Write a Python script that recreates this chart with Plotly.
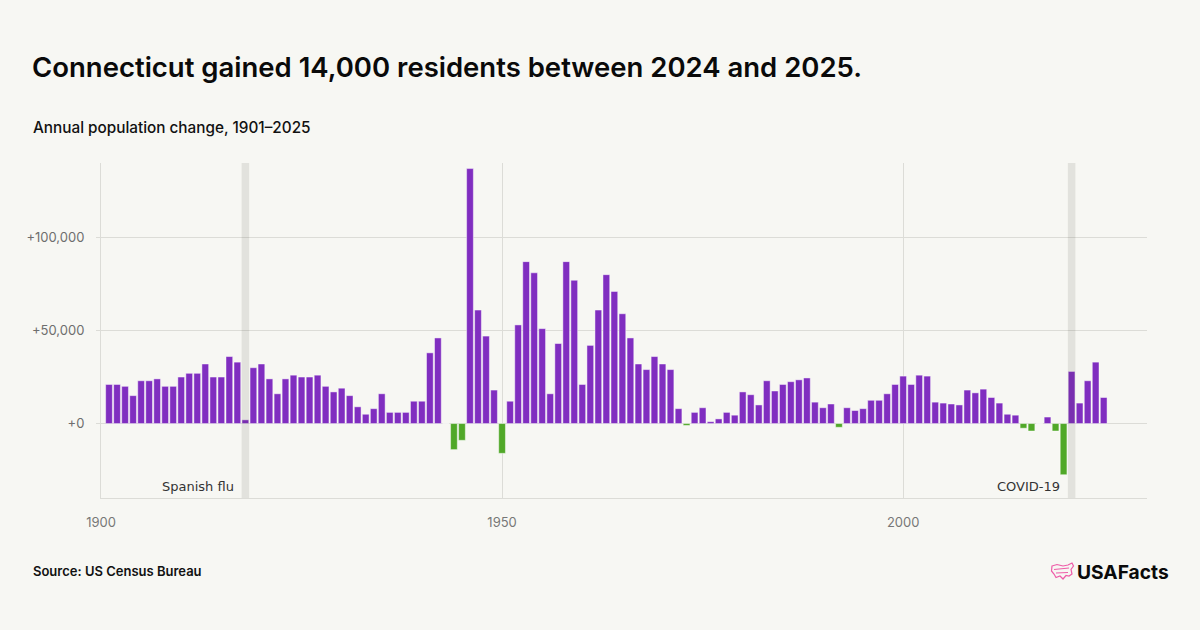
import plotly.graph_objects as go

# ---- data ----
years = list(range(1901, 2026))
change = [
    21000, 21000, 20000, 15000, 23000, 23000, 24000, 20000, 20000, 25000,   # 1901-1910
    27000, 27000, 32000, 25000, 25000, 36000, 33000, 2000, 30000, 32000,    # 1911-1920
    24000, 16000, 24000, 26000, 25000, 25000, 26000, 20000, 17000, 19000,   # 1921-1930
    15000, 9000, 5000, 8000, 16000, 6000, 6000, 6000, 12000, 12000,         # 1931-1940
    38000, 46000, 0, -14000, -9000, 137000, 61000, 47000, 18000, -16000,    # 1941-1950
    12000, 53000, 87000, 81000, 51000, 16000, 43000, 87000, 77000, 21000,   # 1951-1960
    42000, 61000, 80000, 71000, 59000, 46000, 32000, 29000, 36000, 32000,   # 1961-1970
    29000, 8000, -1000, 6000, 8500, 1000, 2500, 6000, 4500, 17000,          # 1971-1980
    15500, 10000, 23000, 17500, 21000, 22500, 23500, 24500, 11500, 8500,    # 1981-1990
    10500, -2000, 8500, 7000, 8000, 12500, 12500, 16000, 21000, 25500,      # 1991-2000
    21000, 26000, 25500, 11500, 11000, 10500, 10000, 18000, 16500, 18500,   # 2001-2010
    14000, 11000, 5000, 4500, -2500, -4000, 0, 3500, -4000, -27500,         # 2011-2020
    28000, 11000, 23000, 33000, 14000,                                      # 2021-2025
]
events = ["Spanish flu", "COVID-19"]
event_years = [1918, 2021]
y_ticks = [0, 50000, 100000]
y_tick_labels = ["+0", "+50,000", "+100,000"]
x_ticks = [1900, 1950, 2000]

PURPLE = "rgb(128,46,192)"
GREEN = "rgb(80,168,40)"
BG = "#F7F7F3"
GRID = "#DCDCD7"

# plot area in pixels
L, R, T, B = 101, 1147, 163, 498
W, H = 1200, 630


def px(x, y):
    return (x - L) / (R - L), (B - y) / (B - T)


colors = [PURPLE if v >= 0 else GREEN for v in change]

fig = go.Figure()
fig.add_trace(go.Bar(
    x=years, y=change,
    marker=dict(color=colors, line=dict(color="rgba(255,255,255,0.45)", width=1)),
    hoverinfo="x+y",
))

shapes = []
for ey in event_years:
    shapes.append(dict(type="rect", xref="x", yref="paper", x0=ey - 0.47, x1=ey + 0.47,
                       y0=0, y1=1, fillcolor="rgba(60,60,50,0.11)", line=dict(width=0),
                       layer="above"))

# logo icon (rough US outline)
pts = [(1052, 566), (1057, 564.5), (1063, 566), (1068, 565), (1072, 563), (1073.5, 566),
       (1071, 569.5), (1072, 574), (1069, 576), (1066, 575.5), (1063, 579), (1060, 576),
       (1056, 577.5), (1054, 574), (1051.5, 571)]
path = ""
for i, (a, b) in enumerate(pts):
    xp, yp = px(a, b)
    path += ("M" if i == 0 else "L") + f"{xp:.5f},{yp:.5f} "
path += "Z"
shapes.append(dict(type="path", xref="paper", yref="paper", path=path,
                   line=dict(color="#EE5DA8", width=1.2), fillcolor="rgba(0,0,0,0)"))
for (a1, b1, a2, b2) in [(1054, 569.5, 1069, 568), (1056, 573, 1068, 572.5)]:
    x1p, y1p = px(a1, b1)
    x2p, y2p = px(a2, b2)
    shapes.append(dict(type="line", xref="paper", yref="paper", x0=x1p, y0=y1p, x1=x2p, y1=y2p,
                       line=dict(color="#EE5DA8", width=1.1)))

annotations = []


def add_text(text, x, y, size, color="#111", weight=400, family="Inter", xanchor="left"):
    xp, yp = px(x, y)
    annotations.append(dict(text=text, x=xp, y=yp, xref="paper", yref="paper",
                            xanchor=xanchor, yanchor="middle", showarrow=False,
                            font=dict(size=size, color=color, family=family, weight=weight)))


add_text("Connecticut gained 14,000 residents between 2024 and 2025.", 30, 67, 27.5, "#0A0A0A", 600)
add_text("Annual population change, 1901–2025", 31, 128, 15.3, "#111", 500)
add_text("Source: US Census Bureau", 31, 571, 13, "#111", 600)
add_text("USAFacts", 1075, 572, 19.2, "#0A0A0A", 700)

for name, ey in zip(events, event_years):
    _, yp = px(0, 486)
    annotations.append(dict(text=name, x=ey - 0.47, y=yp, xref="x", yref="paper",
                            xanchor="right", yanchor="middle", xshift=-6, showarrow=False,
                            font=dict(size=13, color="#333", family="DejaVu Sans")))

fig.update_layout(
    width=W, height=H,
    margin=dict(l=L, r=W - R, t=T, b=H - B, pad=0),
    paper_bgcolor=BG, plot_bgcolor=BG,
    showlegend=False,
    bargap=0.16,
    shapes=shapes,
    annotations=annotations,
    xaxis=dict(range=[1900, 2030.4], tickvals=x_ticks, ticktext=[str(t) for t in x_ticks],
               showgrid=True, gridcolor=GRID, gridwidth=1, zeroline=False,
               showline=True, linecolor=GRID, linewidth=1, ticks="", ticklabelstandoff=12,
               tickfont=dict(family="Inter", size=13, color="#777")),
    yaxis=dict(range=[-40000, 140000], tickvals=y_ticks, ticktext=y_tick_labels,
               showgrid=True, gridcolor=GRID, gridwidth=1, zeroline=False,
               showline=True, linecolor=GRID, linewidth=1,
               ticks="outside", ticklen=4, tickcolor=GRID, ticklabelstandoff=9,
               tickfont=dict(family="Inter", size=13, color="#6E6E6E")),
)

fig.write_html("out.html")
